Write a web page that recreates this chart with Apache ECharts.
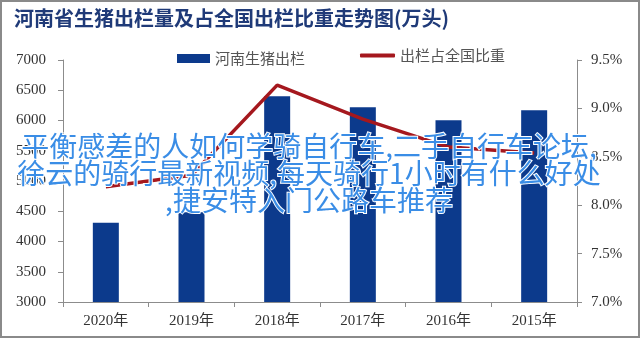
<!DOCTYPE html>
<html><head><meta charset="utf-8">
<script src="https://cdn.jsdelivr.net/npm/echarts@6/dist/echarts.min.js"></script>
<style>html,body{margin:0;padding:0;background:#fff}#c{width:640px;height:339px}</style>
</head><body><div id="c"></div>
<script>
const categories = ['2020年','2019年','2018年','2017年','2016年','2015年'];
const outputValues = [4311, 4485, 6402, 6220, 6004, 6171];
const shareValues = [8.19, 8.31, 9.24, 8.89, 8.60, 8.54];
const leftTicks = [3000, 7000, 500];
const rightTicks = [7.0, 9.5, 0.5];
const titleText = '河南省生猪出栏量及占全国出栏比重走势图(万头)';
const watermarkLines = ['平衡感差的人如何学骑自行车,二手自行车论坛,', '徐云的骑行最新视频,每天骑行1小时有什么好处', ',捷安特入门公路车推荐'];

const serif = "'Liberation Serif','Noto Sans CJK SC',serif";
const cjk = "'Noto Sans CJK SC',sans-serif";
const chart = echarts.init(document.getElementById('c'));
const axisLine = {show:true, lineStyle:{color:'#8c8c8c', width:1}};
chart.setOption({
  animation:false,
  backgroundColor:'#fff',
  grid:{left:63, right:63, top:60, bottom:37},
  legend:[
    {data:[{name:'河南生猪出栏', icon:'rect'}], left:172, top:46, itemWidth:33, itemHeight:9,
     textStyle:{fontFamily:cjk, fontSize:15, color:'#555'}},
    {data:[{name:'出栏占全国比重', icon:'roundRect'}], left:355, top:43, itemWidth:35, itemHeight:4,
     textStyle:{fontFamily:cjk, fontSize:15, color:'#555'}}
  ],
  xAxis:{type:'category', data:categories, boundaryGap:true,
    axisLine:axisLine, axisTick:{show:true, length:5, lineStyle:{color:'#8c8c8c'}},
    axisLabel:{fontFamily:serif, fontSize:15, color:'#333', margin:12}},
  yAxis:[
    {type:'value', min:leftTicks[0], max:leftTicks[1], interval:leftTicks[2], position:'left',
     axisLine:axisLine, axisTick:{show:true, length:5, lineStyle:{color:'#8c8c8c'}}, splitLine:{show:false},
     axisLabel:{fontFamily:serif, fontSize:15, color:'#333', margin:17, formatter:v=>String(v)}},
    {type:'value', min:rightTicks[0], max:rightTicks[1], interval:rightTicks[2], position:'right',
     axisLine:axisLine, axisTick:{show:true, length:5, lineStyle:{color:'#8c8c8c'}}, splitLine:{show:false},
     axisLabel:{fontFamily:serif, fontSize:15, color:'#333', margin:14, formatter:v=>v.toFixed(1)+'%'}}
  ],
  series:[
    {name:'河南生猪出栏', type:'bar', data:outputValues, barWidth:26, itemStyle:{color:'#0c3a8c'}, yAxisIndex:0},
    {name:'出栏占全国比重', type:'line', data:shareValues, yAxisIndex:1, symbol:'none',
     lineStyle:{color:'#a5181e', width:3.5}, itemStyle:{color:'#a5181e'}, z:3}
  ],
  graphic:[
    {type:'rect', shape:{x:1, y:1, width:638, height:336}, style:{fill:'none', stroke:'#8a8a8a', lineWidth:2}, z:100},
    {type:'text', left:14, top:8, style:{text:titleText, font:"bold 20px 'Noto Sans CJK SC'", fill:'#1f3a78'}, z:100},
    ...watermarkLines.map((t,i)=>({type:'text', x:309, y:146+i*27, style:{text:t, font:"28px 'Noto Sans CJK SC'", fill:'#3a8de6', align:'center', verticalAlign:'middle', stroke:'#fff', lineWidth:2}, z:200}))
  ]
});
</script></body></html>
